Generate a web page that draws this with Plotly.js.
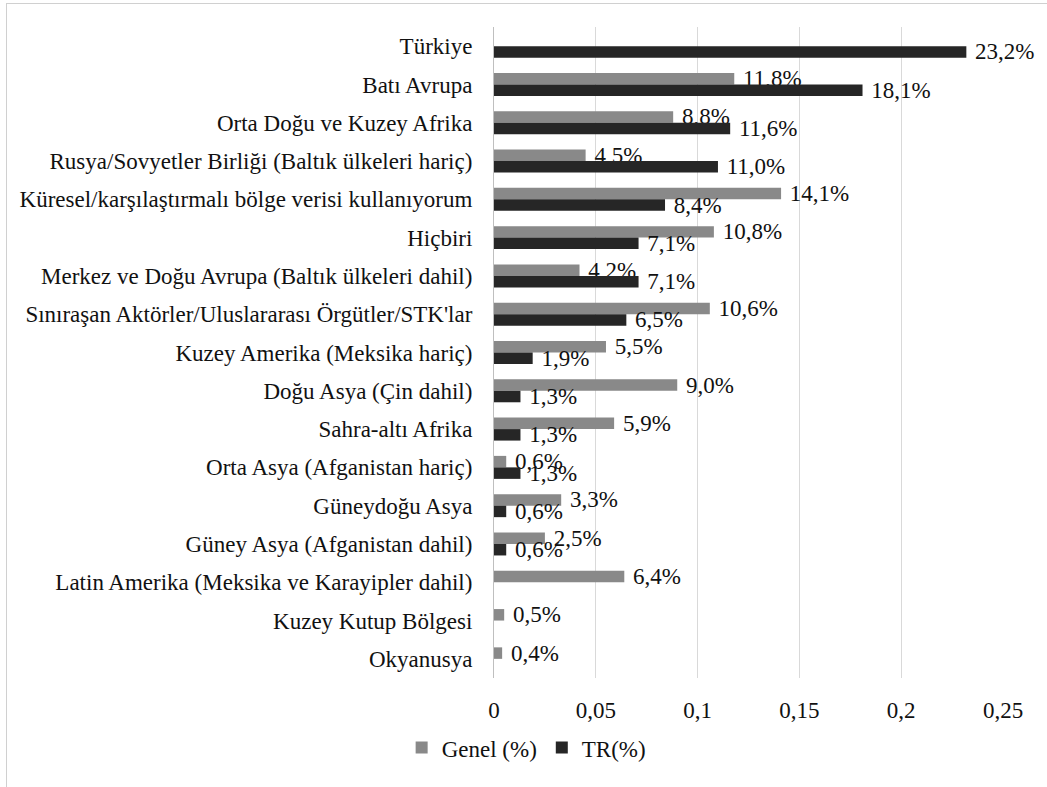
<!DOCTYPE html>
<html>
<head>
<meta charset="utf-8">
<script src="https://cdn.plot.ly/plotly-3.0.1.min.js"></script>
<style>
  body { margin: 0; padding: 0; background: #fff; overflow: hidden; }
  #chart { position: absolute; left: 0; top: 0; width: 1047px; height: 787px; }
  #frame { position: absolute; left: 6px; top: 3px; width: 1100px; height: 900px; border: 1px solid #d0d0d0; pointer-events: none; }
</style>
</head>
<body>
<div id="chart"></div>
<div id="frame"></div>
<script>
const categories = [
  "Türkiye",
  "Batı Avrupa",
  "Orta Doğu ve Kuzey Afrika",
  "Rusya/Sovyetler Birliği (Baltık ülkeleri hariç)",
  "Küresel/karşılaştırmalı bölge verisi kullanıyorum",
  "Hiçbiri",
  "Merkez ve Doğu Avrupa (Baltık ülkeleri dahil)",
  "Sınıraşan Aktörler/Uluslararası Örgütler/STK'lar",
  "Kuzey Amerika (Meksika hariç)",
  "Doğu Asya (Çin dahil)",
  "Sahra-altı Afrika",
  "Orta Asya (Afganistan hariç)",
  "Güneydoğu Asya",
  "Güney Asya (Afganistan dahil)",
  "Latin Amerika (Meksika ve Karayipler dahil)",
  "Kuzey Kutup Bölgesi",
  "Okyanusya"
];
const genel = [null, 0.118, 0.088, 0.045, 0.141, 0.108, 0.042, 0.106, 0.055, 0.090, 0.059, 0.006, 0.033, 0.025, 0.064, 0.005, 0.004];
const tr    = [0.232, 0.181, 0.116, 0.110, 0.084, 0.071, 0.071, 0.065, 0.019, 0.013, 0.013, 0.013, 0.006, 0.006, null, null, null];
const tickVals = [0, 0.05, 0.1, 0.15, 0.2, 0.25];
const tickText = ["0", "0,05", "0,1", "0,15", "0,2", "0,25"];
const seriesNames = ["Genel (%)", "TR(%)"];

function fmt(v) {
  if (v === null || v === undefined) return "";
  return " " + (v * 100).toFixed(1).replace(".", ",") + "%";
}

const FONT = "Liberation Serif";
const TXT = "#111111";
const FS = 23;

const traces = [
  {
    type: "bar", orientation: "h", name: seriesNames[0],
    y: categories, x: genel, text: genel.map(fmt),
    textposition: "outside", constraintext: "none", cliponaxis: false,
    textfont: { family: FONT, size: FS, color: TXT },
    marker: { color: "#898989" },
    hoverinfo: "x+y"
  },
  {
    type: "bar", orientation: "h", name: seriesNames[1],
    y: categories, x: tr, text: tr.map(fmt),
    textposition: "outside", constraintext: "none", cliponaxis: false,
    textfont: { family: FONT, size: FS, color: TXT },
    marker: { color: "#262626" },
    hoverinfo: "x+y"
  }
];

const layout = {
  width: 1047, height: 787,
  margin: { l: 494, r: 44, t: 27, b: 109 },
  paper_bgcolor: "rgba(0,0,0,0)",
  plot_bgcolor: "#fff",
  font: { family: FONT, size: FS, color: TXT },
  barmode: "group",
  bargap: 0.4,
  bargroupgap: 0,
  showlegend: true,
  legend: {
    orientation: "h", xref: "container", yref: "container",
    x: 0.503, y: 0.05, xanchor: "center", yanchor: "middle",
    font: { family: FONT, size: FS, color: TXT },
    itemwidth: 30, traceorder: "normal", tracegroupgap: 0
  },
  xaxis: {
    range: [0, 0.25], tickvals: tickVals, ticktext: tickText,
    showgrid: true, gridcolor: "#d9d9d9", gridwidth: 1,
    zeroline: false, showline: false, ticks: "",
    tickfont: { family: FONT, size: FS, color: TXT },
    ticklabelstandoff: 16
  },
  yaxis: {
    type: "category", autorange: "reversed",
    showline: true, linecolor: "#bfbfbf", linewidth: 1,
    showgrid: false, ticks: "", ticklabelstandoff: 16,
    tickfont: { family: FONT, size: FS, color: TXT }
  }
};

Plotly.newPlot("chart", traces, layout, { displayModeBar: false, staticPlot: true });
</script>
</body>
</html>
